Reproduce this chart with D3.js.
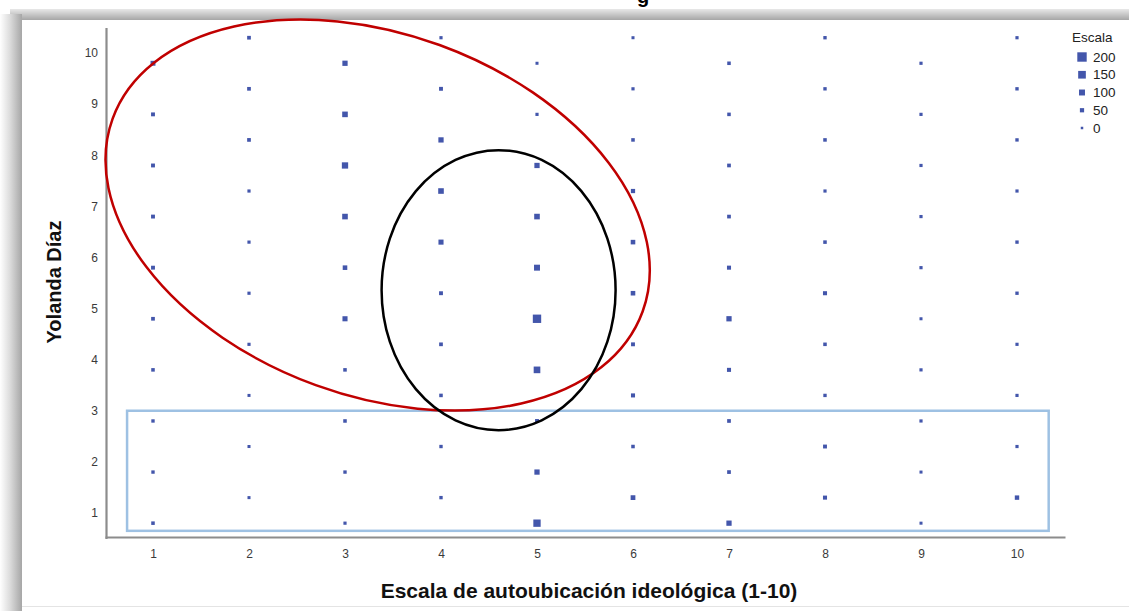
<!DOCTYPE html>
<html>
<head>
<meta charset="utf-8">
<script src="https://cdn.jsdelivr.net/npm/d3@7"></script>
<style>
  html, body { margin: 0; padding: 0; background: #fff; }
  svg { display: block; }
  text { font-family: Arial, "Liberation Sans", sans-serif; }
</style>
</head>
<body>
<svg id="chart" width="1129" height="611"></svg>
<script>
// ---- Data ----
const xCategories = [1, 2, 3, 4, 5, 6, 7, 8, 9, 10];
const yCategories = [10, 9, 8, 7, 6, 5, 4, 3, 2, 1];
// counts per x category, listed for y = 10 down to 1
const countsX1  = [70, 40, 40, 40, 40, 35, 30, 25, 25, 30];
const countsX2  = [35, 35, 35, 20, 20, 20, 20, 15, 15, 15];
const countsX3  = [80, 90, 110, 90, 60, 75, 30, 30, 25, 20];
const countsX4  = [20, 40, 80, 90, 75, 40, 35, 30, 25, 25];
const countsX5  = [15, 20, 80, 90, 100, 170, 120, 40, 80, 140];
const countsX6  = [15, 20, 30, 50, 60, 60, 40, 45, 30, 65];
const countsX7  = [30, 30, 35, 35, 45, 80, 45, 35, 35, 80];
const countsX8  = [25, 25, 30, 20, 30, 45, 30, 25, 40, 45];
const countsX9  = [20, 20, 20, 20, 20, 15, 20, 20, 15, 15];
const countsX10 = [20, 25, 25, 20, 25, 25, 20, 20, 20, 55];
const countsByX = [countsX1, countsX2, countsX3, countsX4, countsX5,
                   countsX6, countsX7, countsX8, countsX9, countsX10];
// vertical offset of the markers (odd / even x categories)
const yOffsetOdd = -0.2;
const yOffsetEven = 0.3;

const xTicks = [1, 2, 3, 4, 5, 6, 7, 8, 9, 10];
const yTicks = [1, 2, 3, 4, 5, 6, 7, 8, 9, 10];
const legendValues = [200, 150, 100, 50, 0];
const legendTitle = "Escala";
const xTitle = "Escala de autoubicación ideológica (1-10)";
const yTitle = "Yolanda Díaz";

// ---- Build points ----
const points = [];
xCategories.forEach((xv, i) => {
  yCategories.forEach((yv, j) => {
    const off = (xv % 2 === 1) ? yOffsetOdd : yOffsetEven;
    points.push({ x: xv, y: yv + off, n: countsByX[i][j] });
  });
});

const svg = d3.select("#chart");

// ---- Frame / shadow ----
const defs = svg.append("defs");
const gTop = defs.append("linearGradient").attr("id", "shTop")
  .attr("x1", 0).attr("y1", 0).attr("x2", 0).attr("y2", 1);
gTop.append("stop").attr("offset", "0%").attr("stop-color", "#e8e8e8");
gTop.append("stop").attr("offset", "100%").attr("stop-color", "#a6a6a6");
const gLeft = defs.append("linearGradient").attr("id", "shLeft")
  .attr("x1", 0).attr("y1", 0).attr("x2", 1).attr("y2", 0);
gLeft.append("stop").attr("offset", "0%").attr("stop-color", "#ffffff");
gLeft.append("stop").attr("offset", "45%").attr("stop-color", "#dcdcdc");
gLeft.append("stop").attr("offset", "100%").attr("stop-color", "#a6a6a6");

svg.append("rect").attr("x", 10).attr("y", 9).attr("width", 1119).attr("height", 11)
  .attr("fill", "url(#shTop)");
svg.append("rect").attr("x", 0).attr("y", 14).attr("width", 22).attr("height", 597)
  .attr("fill", "url(#shLeft)");
svg.append("rect").attr("x", 22).attr("y", 20).attr("width", 1107).attr("height", 586)
  .attr("fill", "#ffffff");
svg.append("line").attr("x1", 22).attr("x2", 1129).attr("y1", 606.5).attr("y2", 606.5)
  .attr("stroke", "#e4e4e4").attr("stroke-width", 1);

// title, cut off at the top edge in the reference (only the descender shows)
svg.append("text").attr("x", 643).attr("y", 3).attr("text-anchor", "middle")
  .attr("font-size", 20).attr("font-weight", "bold").attr("fill", "#000").text("g");

// ---- Scales ----
const x = d3.scaleLinear().domain([0.5, 10.5]).range([105, 1065]);
const y = d3.scaleLinear().domain([0.5, 10.5]).range([538.5, 27.5]);
const side = d3.scaleLinear().domain([0, 200]).range([2.5, 9.4]);

// ---- Axes ----
const xAxis = d3.axisBottom(x).tickValues(xTicks).tickSize(0).tickPadding(12)
  .tickFormat(d3.format("d"));
const gx = svg.append("g").attr("transform", "translate(0,537)").call(xAxis);
gx.select(".domain").attr("stroke", "#8c8c8c").attr("stroke-width", 2.2);
gx.selectAll("text").attr("font-size", 12).attr("fill", "#3a3a3a")
  .attr("font-family", "Arial, 'Liberation Sans', sans-serif");

const yAxis = d3.axisLeft(y).tickValues(yTicks).tickSize(0).tickPadding(8)
  .tickFormat(d3.format("d"));
const gy = svg.append("g").attr("transform", "translate(106,0)").call(yAxis);
gy.select(".domain").attr("stroke", "#8c8c8c").attr("stroke-width", 2.2);
gy.selectAll("text").attr("font-size", 12).attr("fill", "#3a3a3a")
  .attr("font-family", "Arial, 'Liberation Sans', sans-serif");

// ---- Points ----
svg.append("g").selectAll("rect").data(points).join("rect")
  .attr("x", d => x(d.x) - side(d.n) / 2)
  .attr("y", d => y(d.y) - side(d.n) / 2)
  .attr("width", d => side(d.n))
  .attr("height", d => side(d.n))
  .attr("fill", "#4356ab");

// ---- Annotations (drawn over the chart) ----
const annRect = { x0: 0.73, x1: 10.33, y0: 0.65, y1: 3.0 };
svg.append("rect")
  .attr("x", x(annRect.x0)).attr("y", y(annRect.y1))
  .attr("width", x(annRect.x1) - x(annRect.x0))
  .attr("height", y(annRect.y0) - y(annRect.y1))
  .attr("fill", "none").attr("stroke", "#9ec1e3").attr("stroke-width", 2.5);

const redEllipse = { cx: 3.34, cy: 6.83, rx: 282, ry: 181, rot: 20 };
svg.append("ellipse")
  .attr("transform", `translate(${x(redEllipse.cx)},${y(redEllipse.cy)}) rotate(${redEllipse.rot})`)
  .attr("rx", redEllipse.rx).attr("ry", redEllipse.ry)
  .attr("fill", "none").attr("stroke", "#c00000").attr("stroke-width", 2.5);

const blackEllipse = { cx: 4.60, cy: 5.36, rx: 117, ry: 140, rot: 0 };
svg.append("ellipse")
  .attr("transform", `translate(${x(blackEllipse.cx)},${y(blackEllipse.cy)}) rotate(${blackEllipse.rot})`)
  .attr("rx", blackEllipse.rx).attr("ry", blackEllipse.ry)
  .attr("fill", "none").attr("stroke", "#000").attr("stroke-width", 2.5);

// ---- Axis titles ----
svg.append("text").attr("x", 589).attr("y", 598).attr("text-anchor", "middle")
  .attr("font-size", 21).attr("font-weight", "bold").attr("fill", "#111").text(xTitle);
svg.append("text").attr("transform", "translate(61,282) rotate(-90)")
  .attr("text-anchor", "middle").attr("font-size", 20).attr("font-weight", "bold")
  .attr("fill", "#111").text(yTitle);

// ---- Legend ----
const lg = svg.append("g").attr("transform", "translate(1072,0)");
lg.append("text").attr("x", 0).attr("y", 42).attr("font-size", 13.5).attr("fill", "#222")
  .text(legendTitle);
const ly = d3.scalePoint().domain(legendValues).range([57, 128]);
lg.selectAll("rect.lg").data(legendValues).join("rect").attr("class", "lg")
  .attr("x", d => 10 - side(d) / 2).attr("y", d => ly(d) - side(d) / 2)
  .attr("width", d => side(d)).attr("height", d => side(d)).attr("fill", "#4356ab");
lg.selectAll("text.lgl").data(legendValues).join("text").attr("class", "lgl")
  .attr("x", 21).attr("y", d => ly(d) + 4.5).attr("font-size", 13.5).attr("fill", "#222")
  .text(d => d);
</script>
</body>
</html>
